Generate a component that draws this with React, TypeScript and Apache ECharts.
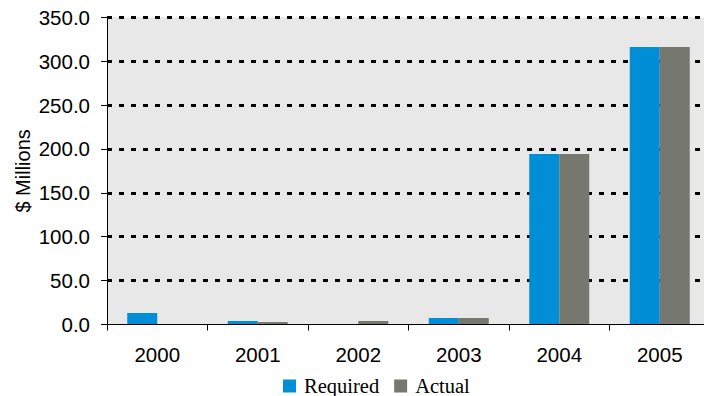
import React, { useEffect, useRef } from "react";
import * as echarts from "echarts";

const years = ["2000", "2001", "2002", "2003", "2004", "2005"];
const required = [13.1, 4.0, 0, 7.4, 194.3, 316.2];
const actual = [0, 2.8, 4.0, 7.4, 194.3, 316.2];

export default function App() {
  const ref = useRef<HTMLDivElement>(null);
  useEffect(() => {
    if (!ref.current) return;
    const chart = echarts.init(ref.current, null, { renderer: "svg" });
    const sans = "Liberation Sans, Arial, sans-serif";
    chart.setOption({
      animation: false,
      backgroundColor: "#ffffff",
      grid: {
        left: 107,
        top: 17.3,
        width: 603,
        height: 307.2,
        show: true,
        backgroundColor: "#e8e8e8",
        borderWidth: 0,
      },
      legend: {
        data: ["Required", "Actual"],
        left: 278,
        top: 370,
        itemWidth: 13,
        itemHeight: 13,
        itemGap: 15,
        icon: "rect",
        textStyle: {
          fontFamily: "Liberation Serif, Times New Roman, serif",
          fontSize: 20.5,
          lineHeight: 22,
          color: "#000",
          padding: [0, 0, 0, 3],
        },
      },
      xAxis: {
        type: "category",
        data: years,
        boundaryGap: true,
        axisLine: { lineStyle: { color: "#000", width: 1 } },
        axisTick: { show: true, length: 6, lineStyle: { color: "#000" } },
        axisLabel: { fontFamily: sans, fontSize: 20.5, color: "#000", margin: 19 },
        z: 10,
      },
      yAxis: {
        type: "value",
        min: 0,
        max: 350,
        interval: 50,
        name: "$ Millions",
        nameLocation: "middle",
        nameGap: 74,
        nameMoveOverlap: false,
        nameTextStyle: { fontFamily: sans, fontSize: 20, color: "#000" },
        axisLine: { show: true, lineStyle: { color: "#000", width: 1 } },
        axisTick: { show: true, length: 6, lineStyle: { color: "#000" } },
        axisLabel: {
          fontFamily: sans,
          fontSize: 20.5,
          color: "#000",
          margin: 17,
          formatter: (v: number) => v.toFixed(1),
        },
        splitLine: {
          show: true,
          showMinLine: false,
          lineStyle: { color: "#000", width: 3, type: [5, 7] },
        },
      },
      series: [
        {
          name: "Required",
          type: "bar",
          data: required,
          barWidth: 30,
          barGap: "0%",
          itemStyle: { color: "#008fd6" },
        },
        {
          name: "Actual",
          type: "bar",
          data: actual,
          barWidth: 30,
          barGap: "0%",
          itemStyle: { color: "#76776f" },
        },
      ],
    });
    return () => chart.dispose();
  }, []);
  return (
    <div style={{ width: 704, height: 396, position: "absolute", left: 0, top: 0, overflow: "hidden" }}>
      <div ref={ref} style={{ width: 716, height: 396 }} />
    </div>
  );
}
